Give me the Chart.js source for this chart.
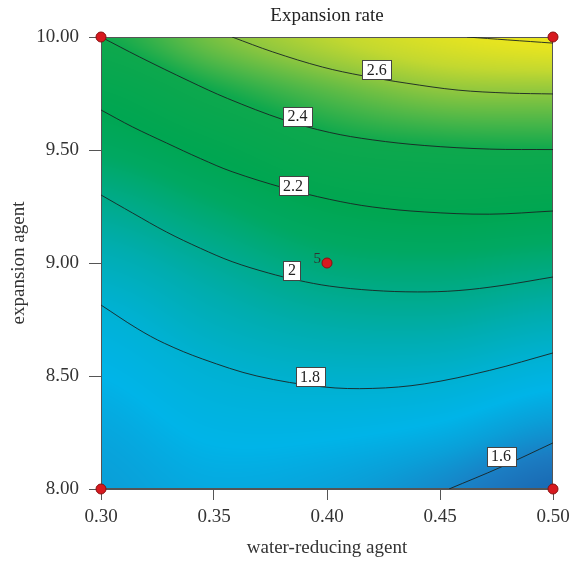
<!DOCTYPE html>
<html>
<head>
<meta charset="utf-8">
<script src="https://cdn.jsdelivr.net/npm/chart.js@4.4.1/dist/chart.umd.min.js"></script>
<style>
  html, body { margin: 0; padding: 0; background: #fff; }
  #wrap { width: 570px; height: 563px; }
</style>
</head>
<body>
<div id="wrap"><canvas id="chart"></canvas></div>
<script>
// Response surface (rows: expansion agent, cols: water-reducing agent)
const reducerX = [0.30, 0.35, 0.40, 0.45, 0.50];
const agentY = [8.00, 8.25, 8.50, 8.75, 9.00, 9.25, 9.50, 9.75, 10.00];
const rateGrid = [
    [1.66, 1.69, 1.67, 1.61, 1.52],
    [1.68, 1.73, 1.73, 1.70, 1.63],
    [1.72, 1.79, 1.82, 1.81, 1.75],
    [1.78, 1.87, 1.93, 1.94, 1.89],
    [1.87, 1.96, 2.05, 2.07, 2.04],
    [1.98, 2.08, 2.19, 2.23, 2.21],
    [2.11, 2.22, 2.35, 2.39, 2.40],
    [2.24, 2.39, 2.51, 2.59, 2.60],
    [2.40, 2.57, 2.69, 2.78, 2.83]
];

// Contour lines [x, y]
const line28 = [[0.462, 10.0], [0.480, 9.987], [0.50, 9.973]];
const line26 = [[0.358, 10.0], [0.376, 9.934], [0.398, 9.867], [0.416, 9.828], [0.435, 9.796], [0.458, 9.765], [0.480, 9.752], [0.50, 9.748]];
const line24 = [[0.30, 10.0], [0.317, 9.912], [0.339, 9.805], [0.356, 9.728], [0.381, 9.633], [0.401, 9.578], [0.420, 9.545], [0.443, 9.520], [0.472, 9.504], [0.50, 9.502]];
const line22 = [[0.30, 9.677], [0.314, 9.602], [0.329, 9.531], [0.344, 9.462], [0.358, 9.404], [0.381, 9.332], [0.401, 9.282], [0.420, 9.248], [0.443, 9.226], [0.472, 9.216], [0.50, 9.230]];
const line20 = [[0.30, 9.301], [0.314, 9.221], [0.329, 9.137], [0.344, 9.065], [0.358, 9.006], [0.374, 8.956], [0.387, 8.924], [0.401, 8.898], [0.420, 8.879], [0.440, 8.872], [0.458, 8.878], [0.477, 8.900], [0.50, 8.938]];
const line18 = [[0.30, 8.814], [0.316, 8.710], [0.328, 8.645], [0.345, 8.575], [0.369, 8.500], [0.398, 8.452], [0.420, 8.445], [0.443, 8.465], [0.472, 8.525], [0.50, 8.602]];
const line16 = [[0.454, 8.0], [0.477, 8.097], [0.50, 8.204]];

// Contour labels
const labelText = ['2.6', '2.4', '2.2', '2', '1.8', '1.6'];
const labelX = [0.422, 0.387, 0.385, 0.3845, 0.3925, 0.477];
const labelY = [9.854, 9.650, 9.341, 8.969, 8.496, 8.146];

// Design points
const designX = [0.30, 0.50, 0.30, 0.50, 0.40];
const designY = [8.00, 8.00, 10.00, 10.00, 9.00];
const designRuns = ['', '', '', '', '5'];

const colorStops = [
    [1.50, '#1a64ae'], [1.58, '#1b7cc2'], [1.66, '#0a9fd8'], [1.72, '#00b4e8'],
    [1.80, '#00b1d2'], [1.90, '#00adb0'], [2.00, '#00aa88'], [2.10, '#00a862'],
    [2.20, '#00a651'], [2.40, '#0ea84d'], [2.50, '#4db748'], [2.60, '#8cc63f'],
    [2.70, '#c2d830'], [2.80, '#e6e420'], [2.90, '#f2ea12']
];

const serif = '"Liberation Serif", "DejaVu Serif", serif';

function hexRgb(h) {
    return [parseInt(h.slice(1, 3), 16), parseInt(h.slice(3, 5), 16), parseInt(h.slice(5, 7), 16)];
}
const stopRgb = colorStops.map(s => [s[0], hexRgb(s[1])]);

function colorFor(z) {
    if (z <= stopRgb[0][0]) return stopRgb[0][1];
    for (let i = 1; i < stopRgb.length; i++) {
        if (z <= stopRgb[i][0]) {
            const a = stopRgb[i - 1], b = stopRgb[i];
            const t = (z - a[0]) / (b[0] - a[0]);
            return [0, 1, 2].map(k => a[1][k] + (b[1][k] - a[1][k]) * t);
        }
    }
    return stopRgb[stopRgb.length - 1][1];
}

function cr(p0, p1, p2, p3, t) {
    return 0.5 * (2 * p1 + (-p0 + p2) * t + (2 * p0 - 5 * p1 + 4 * p2 - p3) * t * t + (-p0 + 3 * p1 - 3 * p2 + p3) * t * t * t);
}

function gridAt(r, c) {
    r = Math.max(0, Math.min(agentY.length - 1, r));
    c = Math.max(0, Math.min(reducerX.length - 1, c));
    return rateGrid[r][c];
}

function surfaceAt(xv, yv) {
    const fx = (xv - reducerX[0]) / (reducerX[1] - reducerX[0]);
    const fy = (yv - agentY[0]) / (agentY[1] - agentY[0]);
    const c = Math.min(reducerX.length - 2, Math.max(0, Math.floor(fx)));
    const r = Math.min(agentY.length - 2, Math.max(0, Math.floor(fy)));
    const tx = fx - c, ty = fy - r;
    const rows = [];
    for (let k = -1; k <= 2; k++) {
        rows.push(cr(gridAt(r + k, c - 1), gridAt(r + k, c), gridAt(r + k, c + 1), gridAt(r + k, c + 2), tx));
    }
    return cr(rows[0], rows[1], rows[2], rows[3], ty);
}

const surfacePlugin = {
    id: 'surface',
    beforeDatasetsDraw(chart) {
        const { ctx, chartArea: a, scales } = chart;
        const w = Math.round(a.right - a.left), h = Math.round(a.bottom - a.top);
        const off = document.createElement('canvas');
        off.width = w; off.height = h;
        const octx = off.getContext('2d');
        const img = octx.createImageData(w, h);
        for (let j = 0; j < h; j++) {
            const yv = scales.y.getValueForPixel(a.top + j + 0.5);
            for (let i = 0; i < w; i++) {
                const xv = scales.x.getValueForPixel(a.left + i + 0.5);
                const c = colorFor(surfaceAt(xv, yv));
                const p = (j * w + i) * 4;
                img.data[p] = c[0]; img.data[p + 1] = c[1]; img.data[p + 2] = c[2]; img.data[p + 3] = 255;
            }
        }
        octx.putImageData(img, 0, 0);
        ctx.save();
        ctx.drawImage(off, a.left, a.top);
        ctx.strokeStyle = '#555';
        ctx.lineWidth = 1;
        ctx.strokeRect(a.left + 0.5, a.top + 0.5, w - 1, h - 1);
        ctx.restore();
    },
    afterDatasetsDraw(chart) {
        const { ctx, scales } = chart;
        ctx.save();
        ctx.font = '16px ' + serif;
        ctx.textAlign = 'center';
        ctx.textBaseline = 'middle';
        labelText.forEach((t, i) => {
            const px = scales.x.getPixelForValue(labelX[i]);
            const py = scales.y.getPixelForValue(labelY[i]);
            const bw = Math.round(ctx.measureText(t).width + 9), bh = 19;
            const bx = Math.round(px - bw / 2) + 0.5, by = Math.round(py - bh / 2) + 0.5;
            ctx.fillStyle = '#fff';
            ctx.fillRect(bx, by, bw, bh);
            ctx.strokeStyle = '#444';
            ctx.lineWidth = 1;
            ctx.strokeRect(bx, by, bw, bh);
            ctx.fillStyle = '#222';
            ctx.fillText(t, px, py + 1);
        });
        // replicate count next to the centre point
        const meta = chart.getDatasetMeta(chart.data.datasets.length - 1);
        ctx.font = '15px ' + serif;
        ctx.textAlign = 'right';
        meta.data.forEach((pt, i) => {
            if (!designRuns[i]) return;
            ctx.fillStyle = '#333';
            ctx.fillText(designRuns[i], pt.x - 6, pt.y - 4);
        });
        ctx.restore();
    },
    afterDraw(chart) {
        const { ctx, chartArea: a } = chart;
        ctx.save();
        ctx.font = '19px ' + serif;
        ctx.fillStyle = '#222';
        ctx.textAlign = 'center';
        ctx.textBaseline = 'middle';
        ctx.fillText('Expansion rate', (a.left + a.right) / 2, 16);
        ctx.restore();
    }
};

const contourLines = [line28, line26, line24, line22, line20, line18, line16];
const datasets = contourLines.map(pts => ({
    type: 'line',
    data: pts.map(p => ({ x: p[0], y: p[1] })),
    borderColor: 'rgba(25,35,35,0.9)',
    borderWidth: 1,
    pointRadius: 0,
    tension: 0.35,
    fill: false,
    order: 2
}));
datasets.push({
    type: 'scatter',
    data: designX.map((x, i) => ({ x: x, y: designY[i] })),
    backgroundColor: '#d7191f',
    borderColor: '#8a1010',
    borderWidth: 1,
    pointRadius: 5,
    clip: false,
    order: 0
});

const tickFont = { family: serif, size: 19 };

new Chart(document.getElementById('chart').getContext('2d'), {
    type: 'scatter',
    data: { datasets: datasets },
    plugins: [surfacePlugin],
    options: {
        responsive: true,
        maintainAspectRatio: false,
        animation: false,
        layout: { padding: { top: 37, right: 17, left: 0, bottom: 0 } },
        plugins: { legend: { display: false }, tooltip: { enabled: false } },
        scales: {
            x: {
                type: 'linear', min: 0.30, max: 0.50,
                afterFit: s => { s.height = 74; s.paddingLeft = 0; s.paddingRight = 0; },
                grid: { drawOnChartArea: false, tickLength: 11, tickColor: '#555' },
                border: { color: '#555' },
                ticks: { stepSize: 0.05, color: '#333', font: tickFont, padding: 6, maxRotation: 0,
                         callback: v => v.toFixed(2) },
                title: { display: true, text: 'water-reducing agent', color: '#333', font: tickFont, padding: { top: 0, bottom: 4 } }
            },
            y: {
                type: 'linear', min: 8, max: 10,
                afterFit: s => { s.width = 101; s.paddingTop = 0; s.paddingBottom = 0; },
                grid: { drawOnChartArea: false, tickLength: 12, tickColor: '#555' },
                border: { color: '#555' },
                ticks: { stepSize: 0.5, color: '#333', font: tickFont, padding: 10,
                         callback: v => v.toFixed(2) },
                title: { display: true, text: 'expansion agent', color: '#333', font: tickFont, padding: { top: 8, bottom: 0 } }
            }
        }
    }
});
</script>
</body>
</html>
